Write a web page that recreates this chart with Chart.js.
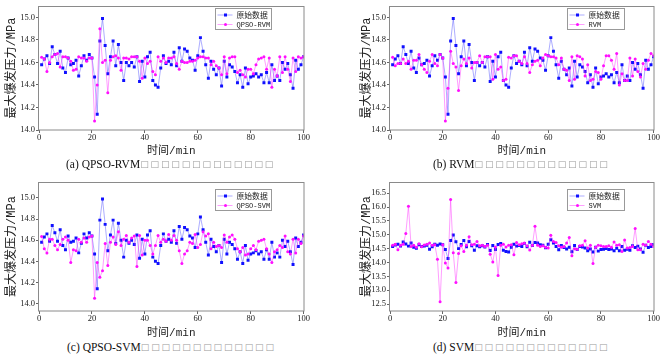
<!DOCTYPE html>
<html><head><meta charset="utf-8">
<script src="https://cdn.jsdelivr.net/npm/chart.js@4"></script>
<style>
html,body{margin:0;padding:0;background:#fff;width:663px;height:354px;overflow:hidden;position:relative}
canvas{position:absolute}
.cap{position:absolute;font-family:'Liberation Serif',serif;font-size:11.5px;color:#111;white-space:nowrap;line-height:12px;display:flex;align-items:center}
.cap .b{display:inline-block;width:10.4px;color:#999;font-family:'DejaVu Sans',sans-serif;font-size:9px;text-align:left}
</style></head><body>
<canvas id="ca" width="310" height="160" style="left:0px;top:0px"></canvas>
<canvas id="cb" width="309" height="160" style="left:351px;top:0px"></canvas>
<canvas id="cc" width="310" height="165" style="left:0px;top:176px"></canvas>
<canvas id="cd" width="309" height="165" style="left:351px;top:176px"></canvas>
<div class="cap" id="capa" style="left:66px;top:158px"></div>
<div class="cap" id="capb" style="left:433px;top:158px"></div>
<div class="cap" id="capc" style="left:67px;top:341px"></div>
<div class="cap" id="capd" style="left:433px;top:341px"></div>
<script>
const time = [1,2,3,4,5,6,7,8,9,10,11,12,13,14,15,16,17,18,19,20,21,22,23,24,25,26,27,28,29,30,
31,32,33,34,35,36,37,38,39,40,41,42,43,44,45,46,47,48,49,50,51,52,53,54,55,56,57,58,59,60,
61,62,63,64,65,66,67,68,69,70,71,72,73,74,75,76,77,78,79,80,81,82,83,84,85,86,87,88,89,90,
91,92,93,94,95,96,97,98,99,100];

const originalData = [14.58,14.63,14.66,14.59,14.74,14.67,14.59,14.70,14.55,14.51,
14.64,14.58,14.59,14.62,14.48,14.57,14.66,14.62,14.67,14.64,
14.47,14.14,14.79,14.99,14.75,14.50,14.65,14.79,14.57,14.76,
14.60,14.44,14.60,14.57,14.60,14.56,14.65,14.43,14.61,14.47,
14.65,14.69,14.44,14.40,14.38,14.55,14.66,14.59,14.61,14.58,
14.69,14.57,14.73,14.61,14.72,14.70,14.64,14.62,14.53,14.66,
14.82,14.70,14.58,14.46,14.61,14.54,14.49,14.55,14.39,14.61,
14.47,14.58,14.56,14.52,14.42,14.49,14.38,14.55,14.41,14.47,
14.48,14.50,14.47,14.49,14.42,14.51,14.42,14.58,14.44,14.48,
14.44,14.60,14.54,14.59,14.49,14.37,14.62,14.54,14.58,14.65];

const qpsoRvm = [14.645,14.63,14.52,14.60,14.65,14.67,14.68,14.56,14.65,14.65,
14.64,14.61,14.53,14.54,14.65,14.64,14.64,14.61,14.64,14.64,
14.08,14.40,14.90,14.60,14.62,14.33,14.62,14.65,14.66,14.64,
14.53,14.64,14.64,14.63,14.65,14.65,14.65,14.61,14.46,14.64,
14.59,14.61,14.52,14.49,14.65,14.61,14.64,14.60,14.64,14.64,
14.65,14.59,14.54,14.61,14.60,14.60,14.61,14.61,14.62,14.64,
14.65,14.65,14.64,14.64,14.58,14.61,14.57,14.55,14.49,14.65,
14.50,14.64,14.65,14.65,14.51,14.53,14.49,14.47,14.54,14.54,
14.50,14.58,14.63,14.64,14.65,14.54,14.64,14.38,14.54,14.48,
14.65,14.51,14.65,14.54,14.43,14.64,14.52,14.65,14.64,14.65];

const rvm = [14.645,14.57,14.59,14.59,14.63,14.59,14.61,14.54,14.62,14.62,
14.67,14.58,14.54,14.51,14.61,14.67,14.59,14.57,14.67,14.64,
14.08,14.37,14.70,14.59,14.56,14.35,14.57,14.63,14.59,14.64,
14.55,14.60,14.60,14.66,14.60,14.65,14.65,14.65,14.45,14.67,
14.54,14.56,14.44,14.45,14.645,14.64,14.66,14.66,14.61,14.59,
14.65,14.59,14.51,14.58,14.61,14.62,14.57,14.64,14.67,14.66,
14.65,14.65,14.64,14.58,14.64,14.54,14.53,14.44,14.65,14.45,
14.66,14.65,14.63,14.48,14.58,14.44,14.45,14.52,14.51,14.45,
14.57,14.66,14.66,14.62,14.54,14.68,14.40,14.50,14.44,14.44,
14.64,14.48,14.63,14.52,14.47,14.59,14.54,14.62,14.68,14.66];

const qpsoSvm = [14.635,14.52,14.48,14.61,14.61,14.55,14.51,14.56,14.61,14.63,
14.60,14.39,14.51,14.50,14.61,14.58,14.62,14.58,14.63,14.64,
14.05,14.39,14.25,14.31,14.57,14.36,14.58,14.63,14.56,14.68,
14.55,14.61,14.645,14.58,14.62,14.64,14.35,14.645,14.46,14.60,
14.60,14.55,14.47,14.55,14.645,14.58,14.61,14.59,14.655,14.60,
14.645,14.60,14.50,14.38,14.47,14.50,14.58,14.57,14.655,14.53,
14.56,14.68,14.64,14.66,14.52,14.58,14.54,14.55,14.53,14.65,
14.58,14.63,14.65,14.61,14.52,14.49,14.53,14.46,14.47,14.52,
14.55,14.51,14.59,14.60,14.61,14.52,14.47,14.39,14.49,14.51,
14.55,14.53,14.64,14.49,14.47,14.61,14.48,14.61,14.57,14.64];

const svm = [14.62,14.66,14.46,14.62,14.66,15.05,16.03,14.58,14.62,14.55,
14.68,14.57,14.63,14.66,14.70,14.62,14.64,14.12,12.58,14.64,
13.98,13.80,16.27,14.35,13.28,14.32,14.60,14.40,14.62,14.93,
14.64,14.66,14.76,14.60,14.62,14.58,14.62,14.30,14.02,14.56,
13.53,14.62,14.66,14.56,14.62,14.64,14.28,14.72,14.64,14.68,
14.70,14.60,14.45,14.62,15.31,14.62,14.58,14.60,14.55,14.52,
14.98,14.76,14.72,14.60,14.55,14.58,14.70,14.90,14.24,14.50,
14.48,14.60,14.62,14.78,14.52,14.62,13.96,14.55,14.62,14.60,
14.58,14.58,14.60,14.55,14.74,14.62,14.64,14.40,14.81,14.52,
14.54,14.58,15.23,14.46,14.46,14.66,14.62,14.76,14.66,14.58];

const xTicks = [0,20,40,60,80,100];
const yTicksNarrow = [14.0,14.2,14.4,14.6,14.8,15.0];
const yTicksWide = [12.5,13.0,13.5,14.0,14.5,15.0,15.5,16.0,16.5];

const originalLabel = '原始数据';
const xTitle = '时间/min';
const yTitle = '最大爆发压力/MPa';
const boxCount = 13;

const panels = [
  {canvas:'ca', cap:'capa', capText:'(a) QPSO-RVM', name:'QPSO-RVM', data:qpsoRvm, yMin:14.0, yMax:15.1, yTicks:yTicksNarrow, yTitlePad:4.8, legDx:89, legDy:2, legW:56, xTitlePad:2},
  {canvas:'cb', cap:'capb', capText:'(b) RVM', name:'RVM', data:rvm, yMin:14.0, yMax:15.1, yTicks:yTicksNarrow, yTitlePad:8.5, legDx:87, legDy:2, legW:57, xTitlePad:2},
  {canvas:'cc', cap:'capc', capText:'(c) QPSO-SVM', name:'QPSO-SVM', data:qpsoSvm, yMin:13.93, yMax:15.15, yTicks:yTicksNarrow, yTitlePad:4.8, legDx:89, legDy:7, legW:56, xTitlePad:1},
  {canvas:'cd', cap:'capd', capText:'(d) SVM', name:'SVM', data:svm, yMin:12.25, yMax:16.9, yTicks:yTicksWide, yTitlePad:8.5, legDx:87, legDy:7, legW:57, xTitlePad:1}
];

const BLUE = '#1010ff', BLUE_LINE = 'rgba(40,40,255,0.38)';
const MAG = '#ff10ff', MAG_LINE = 'rgba(255,40,255,0.45)';

const framePlugin = {
  id:'frame',
  afterDatasetsDraw(chart){
    const {ctx, chartArea:a} = chart;
    ctx.save();
    ctx.strokeStyle = '#8a8a8a';
    ctx.lineWidth = 1;
    ctx.strokeRect(Math.round(a.left)-0.5, Math.round(a.top)+0.5, Math.round(a.right-a.left)+0.5, Math.round(a.bottom-a.top)-0.5);
    ctx.restore();
  }
};

const legendPlugin = {
  id:'boxLegend',
  afterDraw(chart, args, opts){
    const {ctx, chartArea:a} = chart;
    const x = Math.round(a.right - opts.dx) + 0.5, y = Math.round(a.top + opts.dy) + 0.5;
    const w = opts.w, h = 21;
    ctx.save();
    ctx.fillStyle = '#fff';
    ctx.fillRect(x, y, w, h);
    ctx.strokeStyle = '#999';
    ctx.lineWidth = 1;
    ctx.strokeRect(x, y, w, h);
    const rows = [
      {label:opts.l1, line:BLUE_LINE, pt:BLUE, style:'rect', font:"7.8px 'Noto Sans CJK SC', sans-serif"},
      {label:opts.l2, line:MAG_LINE, pt:MAG, style:'circle', font:"7px 'Liberation Mono', monospace"}
    ];
    rows.forEach((r, i) => {
      const ry = y + 6.5 + i * 9.5;
      ctx.strokeStyle = r.line;
      ctx.lineWidth = 1;
      ctx.beginPath(); ctx.moveTo(x + 2, ry); ctx.lineTo(x + 17, ry); ctx.stroke();
      ctx.fillStyle = r.pt;
      if (r.style === 'rect') ctx.fillRect(x + 8.5, ry - 1.5, 3, 3);
      else { ctx.beginPath(); ctx.arc(x + 10, ry, 1.5, 0, Math.PI * 2); ctx.fill(); }
      ctx.fillStyle = '#222';
      ctx.font = r.font;
      ctx.textBaseline = 'middle';
      ctx.fillText(r.label, x + 21, ry + 0.5);
    });
    ctx.restore();
  }
};

function makeChart(p){
  const toPts = arr => time.map((t, i) => ({x:t, y:arr[i]}));
  new Chart(document.getElementById(p.canvas), {
    type:'line',
    data:{datasets:[
      {label:originalLabel, data:toPts(originalData), borderColor:BLUE_LINE, backgroundColor:BLUE, pointBackgroundColor:BLUE, pointBorderColor:BLUE, pointStyle:'rect', pointRadius:2.1, pointBorderWidth:0, borderWidth:1, order:1, tension:0},
      {label:p.name, data:toPts(p.data), borderColor:MAG_LINE, backgroundColor:MAG, pointBackgroundColor:MAG, pointBorderColor:MAG, pointStyle:'circle', pointRadius:1.5, pointBorderWidth:0, borderWidth:1, order:0, tension:0}
    ]},
    options:{
      responsive:false, animation:false, devicePixelRatio:1,
      layout:{padding:{top:4, right:4, left:0, bottom:0}},
      plugins:{legend:{display:false}, tooltip:{enabled:false},
        boxLegend:{dx:p.legDx, dy:p.legDy, w:p.legW, l1:originalLabel, l2:p.name}},
      scales:{
        x:{type:'linear', min:0, max:100,
          afterBuildTicks:s => { s.ticks = xTicks.map(v => ({value:v})); },
          afterFit:s => { s.height = 30; },
          ticks:{font:{family:"'Liberation Serif', serif", size:8.5}, color:'#222', padding:0, maxRotation:0, callback:v => String(v)},
          grid:{drawOnChartArea:false, drawTicks:true, tickLength:3, color:'#666'},
          border:{display:false},
          title:{display:true, text:xTitle, font:{family:"'Liberation Mono', 'Noto Sans CJK SC', monospace", size:11}, color:'#222', padding:{top:0, bottom:p.xTitlePad}}
        },
        y:{type:'linear', min:p.yMin, max:p.yMax,
          afterBuildTicks:s => { s.ticks = p.yTicks.map(v => ({value:v})); },
          afterFit:s => { s.width = 39; },
          ticks:{font:{family:"'Liberation Serif', serif", size:8.5}, color:'#222', padding:1, callback:v => Number(v).toFixed(1)},
          grid:{drawOnChartArea:false, drawTicks:true, tickLength:3, color:'#666'},
          border:{display:false},
          title:{display:true, text:yTitle, font:{family:"'Liberation Mono', 'Noto Sans CJK SC', monospace", size:12}, color:'#222', padding:{top:p.yTitlePad, bottom:0}}
        }
      }
    },
    plugins:[framePlugin, legendPlugin]
  });
  const cap = document.getElementById(p.cap);
  const t = document.createElement('span');
  t.textContent = p.capText;
  cap.appendChild(t);
  for (let i = 0; i < boxCount; i++) {
    const b = document.createElement('span');
    b.className = 'b';
    b.textContent = '□';
    cap.appendChild(b);
  }
}
panels.forEach(makeChart);
</script>
</body></html>
